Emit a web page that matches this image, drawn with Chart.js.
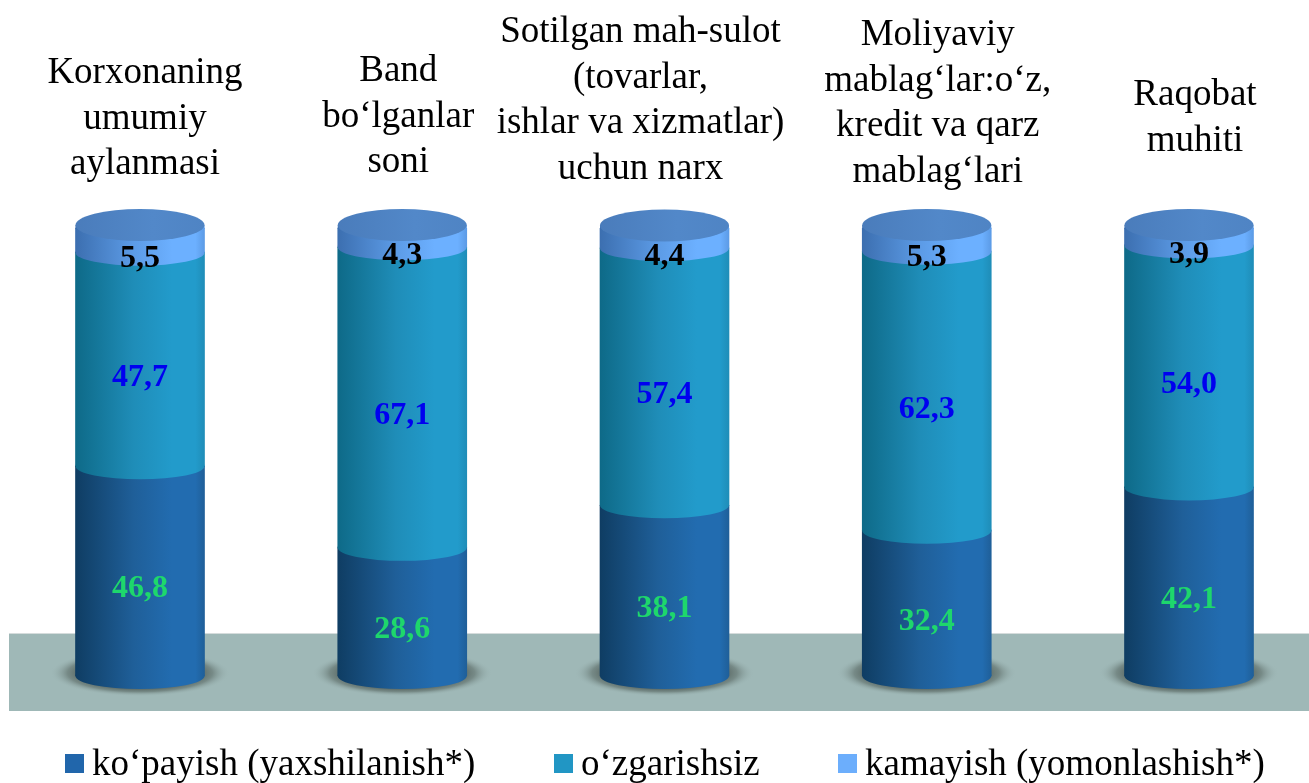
<!DOCTYPE html>
<html lang="en">

<head>
  <meta charset="UTF-8">
  <title>Korxona ko'rsatkichlari</title>
  <script src="https://cdn.jsdelivr.net/npm/chart.js"></script>
  <style>
    html, body { margin: 0; padding: 0; background: #fff; overflow: hidden; }
    canvas { display: block; }
  </style>
</head>

<body>
  <canvas id="chart" width="1309" height="783"></canvas>
</body>

<script>
  const categories = [
    ['Korxonaning', 'umumiy', 'aylanmasi'],
    ['Band', 'bo‘lganlar', 'soni'],
    ['Sotilgan mah-sulot', '(tovarlar,', 'ishlar va xizmatlar)', 'uchun narx'],
    ['Moliyaviy', 'mablag‘lar:o‘z,', 'kredit va qarz', 'mablag‘lari'],
    ['Raqobat', 'muhiti']
  ]
  const seriesNames = ['ko‘payish (yaxshilanish*)', 'o‘zgarishsiz', 'kamayish (yomonlashish*)']
  const increased = [46.8, 28.6, 38.1, 32.4, 42.1]
  const unchanged = [47.7, 67.1, 57.4, 62.3, 54.0]
  const decreased = [5.5, 4.3, 4.4, 5.3, 3.9]

  // horizontal cylinder shading: [edge, middle, highlight]
  const shades = [
    ['#0f3d63', '#1f5f99', '#226cb0'],
    ['#0e6a88', '#1f8db8', '#229bcb'],
    ['#3c6fb0', '#5c9be6', '#6cb0ff']
  ]
  const legendColors = ['#2166ab', '#2196c4', '#6caefc']
  const labelColors = ['#1ed76c', '#0000f0', '#000000']
  const serif = '"Liberation Serif", serif'

  // category label placement, the labels sit a bit off the cylinders
  const labelShiftX = [5, -4, -24, 11, 6]
  const labelFirstBaseline = [83, 81, 42, 45, 105]
  const labelLineHeight = 45.6
  const legendSwatchX = [65, 554, 838]
  const capLift = 3
  const capRy = 16
  const segmentRy = 13

  function cylinderFill(chart, x, colors) {
    const half = 64.5
    const g = chart.ctx.createLinearGradient(x - half, 0, x + half, 0)
    g.addColorStop(0, colors[0])
    g.addColorStop(0.45, colors[1])
    g.addColorStop(0.75, colors[2])
    g.addColorStop(0.93, colors[2])
    g.addColorStop(1, colors[1])
    return g
  }

  function barFill(ctx) {
    const i = ctx.datasetIndex
    const x = ctx.dataIndex === undefined ? NaN : ctx.chart.scales.x.getPixelForValue(ctx.dataIndex)
    // called before the layout is done too, no pixel yet
    if (!Number.isFinite(x)) return legendColors[i]
    return cylinderFill(ctx.chart, x, shades[i])
  }

  const cylinderPlugin = {
    id: 'cylinder',
    beforeDatasetsDraw(chart) {
      const { ctx, scales } = chart
      // floor
      ctx.fillStyle = '#9fb8b7'
      ctx.fillRect(9, 634, 1300, 77)
      ctx.fillStyle = '#d5dcdc'
      ctx.fillRect(9, 633, 1300, 1)
      // shadows
      categories.forEach((c, i) => {
        const x = scales.x.getPixelForValue(i)
        ctx.save()
        ctx.translate(x, 673)
        ctx.scale(1, 0.26)
        const g = ctx.createRadialGradient(0, 0, 55, 0, 0, 90)
        g.addColorStop(0, 'rgba(60,70,65,0.85)')
        g.addColorStop(0.5, 'rgba(85,100,95,0.55)')
        g.addColorStop(1, 'rgba(159,184,183,0)')
        ctx.fillStyle = g
        ctx.beginPath()
        ctx.arc(0, 0, 90, 0, Math.PI * 2)
        ctx.fill()
        ctx.restore()
      })
    },
    afterDatasetsDraw(chart) {
      const { ctx, scales } = chart
      // curved segment ends, lowest first so the upper ones overlap
      shades.forEach((colors, i) => {
        chart.getDatasetMeta(i).data.forEach((bar) => {
          const rx = bar.width / 2
          ctx.fillStyle = cylinderFill(chart, bar.x, colors)
          ctx.beginPath()
          ctx.rect(bar.x - rx, bar.base - 1.5, rx * 2, 1.5)
          ctx.ellipse(bar.x, bar.base, rx, segmentRy, 0, 0, Math.PI)
          ctx.fill()
          if (i === shades.length - 1) {
            ctx.fillRect(bar.x - rx, bar.y - capLift, rx * 2, capLift + 1)
            // top cap
            const g = ctx.createLinearGradient(bar.x - rx, 0, bar.x + rx, 0)
            g.addColorStop(0, '#4a7cbb')
            g.addColorStop(0.6, '#5288c9')
            g.addColorStop(1, '#4f84c4')
            ctx.fillStyle = g
            ctx.beginPath()
            ctx.ellipse(bar.x, bar.y - capLift, rx, capRy, 0, 0, Math.PI * 2)
            ctx.fill()
          }
        })
      })
      ctx.textAlign = 'center'
      // values
      ctx.font = 'bold 32px ' + serif
      ctx.textBaseline = 'middle'
      chart.data.datasets.forEach((ds, i) => {
        chart.getDatasetMeta(i).data.forEach((bar, j) => {
          ctx.fillStyle = labelColors[i]
          const label = ds.data[j].toFixed(1).replace('.', ',')
          ctx.fillText(label, bar.x, (bar.y + bar.base) / 2 + 18)
        })
      })
      // categories
      ctx.font = '37px ' + serif
      ctx.textBaseline = 'alphabetic'
      ctx.fillStyle = '#000'
      categories.forEach((lines, i) => {
        const x = scales.x.getPixelForValue(i) + labelShiftX[i]
        lines.forEach((line, k) => {
          ctx.fillText(line, x, labelFirstBaseline[i] + k * labelLineHeight)
        })
      })
      // legend, too wide for the built-in one to stay on a single row
      ctx.textAlign = 'left'
      seriesNames.forEach((name, i) => {
        ctx.fillStyle = legendColors[i]
        ctx.fillRect(legendSwatchX[i], 754, 19, 19)
        ctx.fillStyle = '#000'
        ctx.fillText(name, legendSwatchX[i] + 27, 775)
      })
    }
  }

  const hiddenAxis = (position, width) => ({
    position: position,
    stacked: true,
    min: 0,
    max: 100,
    ticks: { display: false },
    grid: { display: false },
    border: { display: false },
    afterFit(scale) { scale.width = width }
  })

  new Chart(document.getElementById('chart'), {
    type: 'bar',
    data: {
      labels: categories,
      datasets: [
        { label: seriesNames[0], data: increased },
        { label: seriesNames[1], data: unchanged },
        { label: seriesNames[2], data: decreased }
      ]
    },
    options: {
      responsive: false,
      animation: false,
      clip: false,
      barThickness: 129,
      backgroundColor: barFill,
      layout: { padding: { top: 228, bottom: 107 } },
      scales: {
        x: { display: false, stacked: true, offset: false },
        y: hiddenAxis('left', 140),
        yRight: hiddenAxis('right', 120)
      },
      plugins: {
        tooltip: { enabled: false },
        legend: { display: false }
      }
    },
    plugins: [cylinderPlugin]
  })
</script>

</html>
